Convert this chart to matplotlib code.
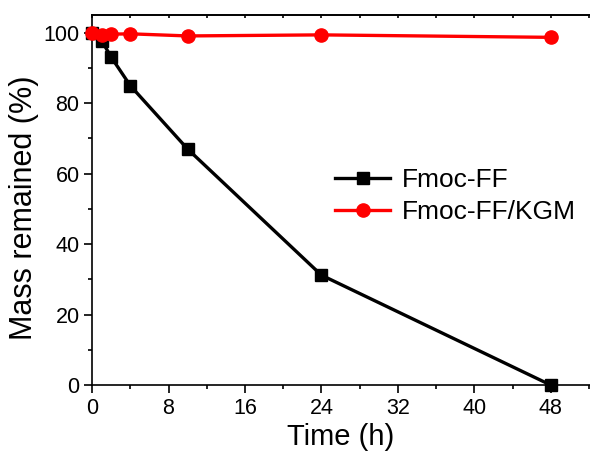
import numpy as np
import matplotlib.pyplot as plt
from matplotlib.ticker import MultipleLocator

plt.rcParams['font.family'] = ['Liberation Sans', 'DejaVu Sans']

# Datos
time_h = [0, 1, 2, 4, 10, 24, 48]
fmoc_ff = [100, 97.8, 93.1, 85.0, 67.0, 31.2, 0]
fmoc_ff_kgm = [100, 99.3, 99.6, 99.7, 99.1, 99.4, 98.7]

fig = plt.figure(figsize=(5.9, 4.59), dpi=100)
ax = fig.add_axes([0.156, 0.161, 0.844, 0.806])

ax.plot(time_h, fmoc_ff, color='black', lw=2.4, marker='s', ms=8.5,
        label='Fmoc-FF', clip_on=False, zorder=3)
ax.plot(time_h, fmoc_ff_kgm, color='red', lw=2.4, marker='o', ms=9.5,
        label='Fmoc-FF/KGM', clip_on=False, zorder=3)

ax.set_xlim(0, 52.1)
ax.set_ylim(0, 105)
ax.xaxis.set_major_locator(MultipleLocator(8))
ax.xaxis.set_minor_locator(MultipleLocator(4))
ax.yaxis.set_major_locator(MultipleLocator(20))
ax.yaxis.set_minor_locator(MultipleLocator(10))

ax.spines['right'].set_visible(False)
for s in ['left', 'bottom', 'top']:
    ax.spines[s].set_linewidth(1.2)
ax.tick_params(which='both', direction='out', width=1.2, labelsize=15.5)
ax.tick_params(which='major', length=5.5)
ax.tick_params(which='minor', length=3)
ax.tick_params(axis='x', pad=4)
# ticks pequeños hacia adentro en el eje superior
ax_top = ax.secondary_xaxis('top')
ax_top.xaxis.set_major_locator(MultipleLocator(4))
ax_top.tick_params(direction='in', length=2, width=1.2, labeltop=False)
ax_top.spines['top'].set_linewidth(1.2)

ax.set_xlabel('Time (h)', fontsize=21, labelpad=3)
ax.set_ylabel('Mass remained (%)', fontsize=22)
ax.yaxis.set_label_coords(-0.106, 0.48)

ax.legend(loc='center left', bbox_to_anchor=(0.44, 0.51), frameon=False,
          fontsize=19, handlelength=2.1, handletextpad=0.45, labelspacing=0.3)

fig.savefig('out.png', dpi=100)
